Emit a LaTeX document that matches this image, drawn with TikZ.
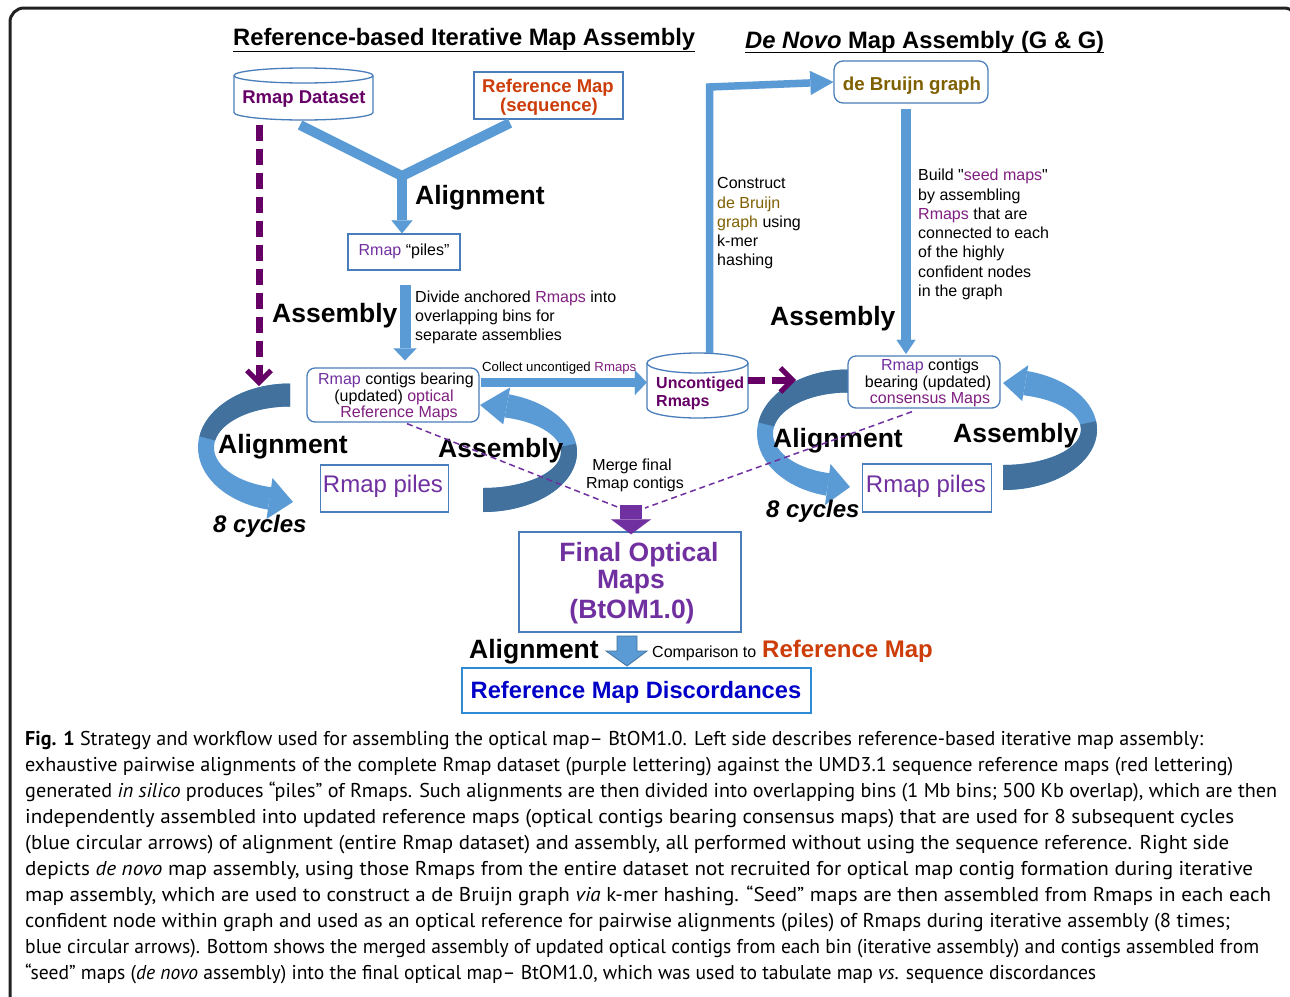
\documentclass[tikz,border=0pt]{standalone}
\usepackage{fontspec}
\usepackage{graphicx}
\setmainfont{Liberation Sans}
\newfontfamily\capfont{PT Sans}
\usetikzlibrary{arrows.meta,calc,shapes.misc}
\definecolor{ablue}{HTML}{5B9BD5}
\definecolor{dblue}{HTML}{41719C}
\definecolor{bord}{HTML}{4A7EBB}
\definecolor{dpurp}{HTML}{660066}
\definecolor{rpurp}{HTML}{7030A0}
\definecolor{mpurp}{HTML}{7F1F80}
\definecolor{redo}{HTML}{CC3D0A}
\definecolor{olive}{HTML}{7F6000}
\definecolor{dblu}{HTML}{0000C8}
\definecolor{disb}{HTML}{2E8BD6}
\definecolor{frm}{HTML}{222222}
\newcommand{\fsz}[1]{\fontsize{#1}{#1}\selectfont}
\newcommand{\sqt}{{\addfontfeatures{Ligatures=TeXOff}\char"22}}
\newsavebox{\capbox}
\newcommand{\fitw}[2]{\sbox{\capbox}{#2}\pgfmathsetmacro{\fsc}{#1/\the\wd\capbox}\scalebox{\fsc}[1]{\usebox{\capbox}}}
\newcommand{\band}[9]{%
  \fill[#9] ($(#1,#2)+(#3:#5 and #6)$) arc[start angle=#3,end angle=#4,x radius=#5,y radius=#6]
   -- ($(#1,#2)+(#4:#7 and #8)$) arc[start angle=#4,end angle=#3,x radius=#7,y radius=#8] -- cycle;}
\newcommand{\cyl}[5]{% x1 x2 ytop ybot ry
  \pgfmathsetmacro{\crx}{(#2-#1)/2}
  \draw[bord,line width=1.3pt,fill=white] (#1,#3) -- (#1,#4) arc[start angle=180,end angle=0,x radius=\crx,y radius=#5]
    -- (#2,#3) arc[start angle=0,end angle=-180,x radius=\crx,y radius=#5] -- cycle;
  \draw[bord,line width=1.3pt] (#1,#3) arc[start angle=180,end angle=0,x radius=\crx,y radius=#5];}
\tikzset{
  lbl/.style={inner sep=0pt,anchor=base west},
  cbl/.style={inner sep=0pt,anchor=base},
  box/.style={draw=bord,line width=1.3pt,fill=white,inner sep=0pt},
  pbox/.style={draw=bord,line width=1.3pt,fill=white,inner sep=0pt,chamfered rectangle,
    chamfered rectangle corners={north east,north west},chamfered rectangle xsep=6pt,chamfered rectangle ysep=6pt},
  big/.style={font=\bfseries\fsz{26.5}},
  txt/.style={font=\fsz{16}},
  pdash/.style={dpurp,line width=7pt,dash pattern=on 16pt off 8pt,-{Straight Barb[length=12pt,width=24pt,line width=5pt]}},
  tdash/.style={rpurp,line width=1.5pt,dash pattern=on 6pt off 4pt},
}
\begin{document}
\begin{tikzpicture}[x=1pt,y=-1pt]
\useasboundingbox (0,0) rectangle (1290,996);
\fill[white] (0,0) rectangle (1290,996);
% frame
\draw[frm,line width=3pt,rounded corners=14pt] (10,8) rectangle (1298,1012);
% titles
\node[lbl,font=\bfseries\fsz{23.75}] (t1) at (233,45.5) {Reference-based Iterative Map Assembly};
\draw[line width=1.8pt] ([yshift=-6pt]t1.base west) -- ([yshift=-6pt]t1.base east);
\node[lbl,font=\bfseries\fsz{23.75}] (t2) at (745,48) {\textit{De Novo} Map Assembly (G \& G)};
\draw[line width=1.8pt] ([yshift=-4.5pt]t2.base west) -- ([yshift=-4.5pt]t2.base east);

% ---------- circular arrows ----------
% left cycle, left arrow
\band{290}{447.5}{-90}{-256}{92}{64}{76}{41}{ablue}
\band{290}{447.5}{-90}{-170}{92}{64}{76}{41}{dblue}
\fill[ablue] (272.5,478) -- (293,502) -- (266.5,519) -- cycle;
% left cycle, right arrow
\band{483}{452}{90}{-74}{94}{60}{78}{36}{ablue}
\band{483}{452}{90}{-8}{94}{60}{78}{36}{dblue}
\fill[ablue] (510.2,387.4) -- (480,405) -- (503.2,424.3) -- cycle;
% right cycle, left arrow
\band{848}{433.5}{-90}{-256}{91}{64}{75}{41}{ablue}
\band{848}{433.5}{-90}{-170}{91}{64}{75}{41}{dblue}
\fill[ablue] (830.5,464) -- (850,487) -- (825,505) -- cycle;
% right cycle, right arrow
\band{1003}{429.5}{90}{-75}{94}{60.5}{78}{35.5}{ablue}
\band{1003}{429.5}{90}{-8}{94}{60.5}{78}{35.5}{dblue}
\fill[ablue] (1028.3,365.2) -- (1003,383) -- (1022.2,401.1) -- cycle;

% ---------- top left ----------
\cyl{234}{373}{75.5}{112.5}{7.5}
\node[inner sep=0pt,minimum width=139pt,minimum height=55pt] (ds) at (303.5,97) {};
\node[cbl,font=\bfseries\fsz{18.5},text=dpurp] (dst) at (304,103) {Rmap Dataset};

\node[box,minimum width=149pt,minimum height=47pt] (rm) at (548.5,95.5) {};
\node[cbl,font=\bfseries\fsz{18.5},text=redo] (rmt1) at (548,92) {Reference Map};
\node[cbl,font=\bfseries\fsz{18.5},text=redo] (rmt2) at (549,111) {(sequence)};

\node[pbox,minimum width=112pt,minimum height=36pt] (rp) at (404,252) {};
\node[cbl,font=\fsz{16}] (rpt) at (404,255) {{\color{rpurp}Rmap} “piles”};

\coordinate (ya) at (300,125);
\coordinate (yb) at (510,123);
\coordinate (yj) at (402,176);
\draw[ablue,line width=10pt,line join=round] (ya) -- (yj) -- (yb);
\draw[ablue,line width=10pt,-{Triangle[width=21pt,length=13pt,line width=0.01pt]}] (yj) -- (yj |- rp.north);
\node[lbl,big] (al1) at (415,204) {Alignment};

% dashed purple down
\coordinate (lcTop) at (259,386);
\draw[pdash] ([xshift=-44.5pt]ds.south) -- (lcTop);
\node[lbl,big] (as1) at (272,322) {Assembly};

% left contigs box
\node[box,rounded corners=8pt,minimum width=172pt,minimum height=54pt] (lc) at (393,395) {};
\node[cbl,txt] at (396,384) {{\color{rpurp}Rmap} contigs bearing};
\node[cbl,txt] at (394,401) {(updated) {\color{mpurp}optical}};
\node[cbl,txt,text=mpurp] at (399,417) {Reference Maps};

\coordinate (dv) at (405,285);
\draw[ablue,line width=11pt,-{Triangle[width=23pt,length=12pt,line width=0.01pt]}] (dv) -- ($(dv |- lc.north)+(0,-7)$);
\node[lbl,txt] at (415,302) {Divide anchored {\color{mpurp}Rmaps} into};
\node[lbl,txt] at (415,321) {overlapping bins for};
\node[lbl,txt] at (415,340) {separate assemblies};

% uncontiged cylinder
\cyl{647}{748}{363}{408}{10}
\node[inner sep=0pt,minimum width=101pt,minimum height=66pt] (uc) at (697.5,386) {};
\node[lbl,font=\bfseries\fsz{16},text=dpurp] at (656,388) {Uncontiged};
\node[lbl,font=\bfseries\fsz{16},text=dpurp] at (656,406) {Rmaps};

\coordinate (cs) at ($(lc.east)+(1,-12.5)$);
\draw[ablue,line width=9.5pt,-{Triangle[width=25pt,length=12pt,line width=0.01pt]}] (cs) -- (cs -| uc.west);
\node[lbl,font=\fsz{13.2}] at (482,371) {Collect uncontiged {\color{mpurp}Rmaps}};

% de Bruijn
\node[box,rounded corners=9pt,minimum width=154pt,minimum height=42pt] (db) at (911,82) {};
\node[cbl,font=\bfseries\fsz{18.7},text=olive] at (912,90) {de Bruijn graph};
\coordinate (vc) at (709.5,87);
\draw[ablue,line width=7.5pt,line join=miter,-{Triangle[width=24pt,length=23pt,line width=0.01pt]}] (uc.north -| vc) -- (vc) -- (db.west);
\node[lbl,txt] at (717,188) {Construct};
\node[lbl,txt,text=olive] at (717,208) {de Bruijn};
\node[lbl,txt] at (717,227) {{\color{olive}graph} using};
\node[lbl,txt] at (717,246) {k-mer};
\node[lbl,txt] at (717,265) {hashing};

% right contigs box
\node[box,rounded corners=8pt,minimum width=152pt,minimum height=52pt] (rc) at (924,382) {};
\node[cbl,txt] at (930,370) {{\color{rpurp}Rmap} contigs};
\node[cbl,txt] at (928,387) {bearing (updated)};
\node[cbl,txt,text=mpurp] at (930,403) {consensus Maps};

\draw[ablue,line width=10pt,-{Triangle[width=19pt,length=14pt,line width=0.01pt]}] ([xshift=-5pt,yshift=-5pt]db.south) -- ([xshift=-18pt,yshift=1.5pt]rc.north);
\node[lbl,txt] at (918,180) {Build \sqt{\color{mpurp}seed maps}\sqt};
\node[lbl,txt] at (918,200) {by assembling};
\node[lbl,txt] at (918,219) {{\color{mpurp}Rmaps} that are};
\node[lbl,txt] at (918,238) {connected to each};
\node[lbl,txt] at (918,257) {of the highly};
\node[lbl,txt] at (918,277) {confident nodes};
\node[lbl,txt] at (918,296) {in the graph};
\node[lbl,big] (as2) at (770,325) {Assembly};

% dashed purple to right cycle
\coordinate (rcTop) at (796,380);
\draw[pdash,dash pattern=on 17pt off 7pt] (uc.east |- rcTop) -- (rcTop);

% Rmap piles boxes
\node[pbox,minimum width=128pt,minimum height=47pt] (lp) at (384.5,488.5) {};
\node[cbl,font=\fsz{24},text=rpurp] at (383,492) {Rmap piles};
\node[pbox,minimum width=129pt,minimum height=48pt] (rpp) at (927,488) {};
\node[cbl,font=\fsz{24},text=rpurp] at (926,492) {Rmap piles};

% cycle labels
\node[lbl,big] at (218,453) {Alignment};
\node[lbl,big] at (438,457) {Assembly};
\node[lbl,big] at (773,447) {Alignment};
\node[lbl,big] at (953,442) {Assembly};
\node[lbl,font=\bfseries\itshape\fsz{24}] at (213,532) {8 cycles};
\node[lbl,font=\bfseries\itshape\fsz{24}] at (766,517) {8 cycles};

% merge
\node[box,draw=bord,line width=1.5pt,rounded corners=0pt,minimum width=222pt,minimum height=100pt] (fo) at (630,582) {};
\coordinate (fa) at (631,505);
\draw[tdash] ([xshift=14pt,yshift=-1pt]lc.south) -- ($(fa)+(-11,3)$);
\draw[tdash] ([xshift=-12pt,yshift=-3pt]rc.south) -- ($(fa)+(14,3)$);
\draw[rpurp,line width=22pt,-{Triangle[width=40pt,length=15pt,line width=0.01pt]}] (fa) -- ([yshift=-3pt]fo.north -| fa);
\node[cbl,txt] at (632,470) {Merge final};
\node[cbl,txt] at (635,488) {Rmap contigs};

\node[cbl,big,text=rpurp] at (639,561) {Final Optical};
\node[cbl,big,text=rpurp] at (631,588) {Maps};
\node[cbl,big,text=rpurp] at (632,618) {(BtOM1.0)};

% bottom
\filldraw[fill=ablue,draw=dblue,line width=0.8pt] (617,636) -- (637,636) -- (637,651) -- (647,651) -- (627,666) -- (606,651) -- (617,651) -- cycle;
\node[lbl,big] at (469,658) {Alignment};
\node[lbl,font=\fsz{16}] at (652,657) {Comparison to};
\node[lbl,font=\bfseries\fsz{24},text=redo] at (762,657) {Reference Map};
\node[box,draw=disb,line width=2pt,minimum width=349pt,minimum height=45pt] (rd) at (636.5,690.5) {};
\node[cbl,font=\bfseries\fsz{23.7},text=dblu] at (636,698) {Reference Map Discordances};

% caption
\begin{scope}[every node/.style={inner sep=0pt,anchor=base west,font=\capfont\fsz{20}}]
\node at (25,745) {\fitw{1178}{\textbf{Fig. 1} Strategy and workflow used for assembling the optical map– BtOM1.0. Left side describes reference-based iterative map assembly:}};
\node at (25,771.1) {\fitw{1208}{exhaustive pairwise alignments of the complete Rmap dataset (purple lettering) against the UMD3.1 sequence reference maps (red lettering)}};
\node at (25,797.2) {\fitw{1252}{generated \textit{in silico} produces “piles” of Rmaps. Such alignments are then divided into overlapping bins (1 Mb bins; 500 Kb overlap), which are then}};
\node at (25,823.3) {\fitw{1209}{independently assembled into updated reference maps (optical contigs bearing consensus maps) that are used for 8 subsequent cycles}};
\node at (25,849.4) {\fitw{1204}{(blue circular arrows) of alignment (entire Rmap dataset) and assembly, all performed without using the sequence reference. Right side}};
\node at (25,875.5) {\fitw{1228}{depicts \textit{de novo} map assembly, using those Rmaps from the entire dataset not recruited for optical map contig formation during iterative}};
\node at (25,901.6) {\fitw{1246}{map assembly, which are used to construct a de Bruijn graph \textit{via} k-mer hashing. “Seed” maps are then assembled from Rmaps in each each}};
\node at (25,927.7) {\fitw{1205}{confident node within graph and used as an optical reference for pairwise alignments (piles) of Rmaps during iterative assembly (8 times;}};
\node at (25,953.8) {\fitw{1234}{blue circular arrows). Bottom shows the merged assembly of updated optical contigs from each bin (iterative assembly) and contigs assembled from}};
\node at (25,979.9) {\fitw{1071}{“seed” maps (\textit{de novo} assembly) into the final optical map– BtOM1.0, which was used to tabulate map \textit{vs.} sequence discordances}};
\end{scope}
\end{tikzpicture}
\end{document}
